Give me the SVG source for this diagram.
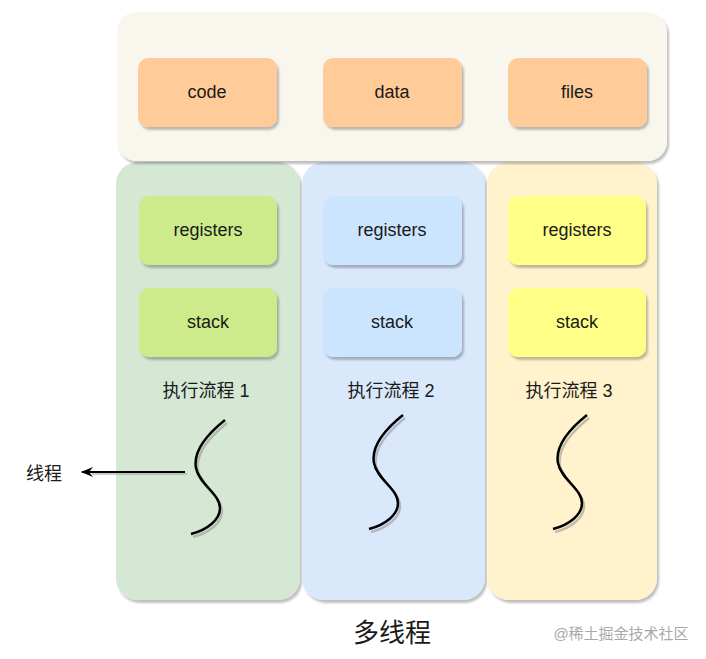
<svg xmlns="http://www.w3.org/2000/svg" width="706" height="659" viewBox="0 0 706 659">
<defs>
<filter id="sh" x="-10%" y="-10%" width="130%" height="130%">
<feDropShadow dx="2" dy="3" stdDeviation="1.2" flood-color="#000" flood-opacity="0.25"/>
</filter>
<marker id="arr" viewBox="0 0 12 10" refX="11" refY="5" markerWidth="12" markerHeight="10" markerUnits="userSpaceOnUse" orient="auto">
<path d="M0,0 L12,5 L0,10 L4,5 Z" fill="#000"/>
</marker>
<path id="scurve" d="M225,420 C205,436 193,452 196,468 C199,484 220,494 220,508 C220,520 207,530 191,534" fill="none"/>
</defs>
<style>
text{font-family:"Liberation Sans","Noto Sans CJK SC",sans-serif;fill:#1a1a1a;text-anchor:middle;dominant-baseline:central}
.box{font-size:18px}
.lbl{font-size:18px}
.col,.b{filter:url(#sh)}
.curve{stroke:#000;stroke-width:2.5;fill:none}
.curvesh{stroke:#999;stroke-width:2.5;fill:none;opacity:0.6}
</style>
<rect width="706" height="659" fill="#fff"/>
<g id="thread1">
<rect class="col" x="116" y="162" width="184" height="438" rx="22" fill="#d5e8d4"/>
<g id="reg1"><rect class="b" x="139" y="196" width="138" height="69" rx="10" fill="#cdeb8b"/><text class="box" x="208" y="230">registers</text></g>
<g id="stack1"><rect class="b" x="139" y="288" width="138" height="69" rx="10" fill="#cdeb8b"/><text class="box" x="208" y="322">stack</text></g>
<text class="lbl" x="206" y="391">执行流程 1</text>
<use href="#scurve" class="curvesh" transform="translate(2,3)"/>
<use href="#scurve" class="curve"/>
</g>
<g id="thread2">
<rect class="col" x="302" y="162" width="183" height="438" rx="22" fill="#dae8fc"/>
<g id="reg2"><rect class="b" x="323" y="196" width="139" height="69" rx="10" fill="#cce5ff"/><text class="box" x="392" y="230">registers</text></g>
<g id="stack2"><rect class="b" x="323" y="288" width="139" height="69" rx="10" fill="#cce5ff"/><text class="box" x="392" y="322">stack</text></g>
<text class="lbl" x="391" y="391">执行流程 2</text>
<use href="#scurve" class="curvesh" transform="translate(180,-2)"/>
<use href="#scurve" class="curve" transform="translate(178,-5)"/>
</g>
<g id="thread3">
<rect class="col" x="487" y="162" width="170" height="438" rx="22" fill="#fff2cc"/>
<g id="reg3"><rect class="b" x="508" y="196" width="138" height="69" rx="10" fill="#ffff88"/><text class="box" x="577" y="230">registers</text></g>
<g id="stack3"><rect class="b" x="508" y="288" width="138" height="69" rx="10" fill="#ffff88"/><text class="box" x="577" y="322">stack</text></g>
<text class="lbl" x="569" y="391">执行流程 3</text>
<use href="#scurve" class="curvesh" transform="translate(364,-2)"/>
<use href="#scurve" class="curve" transform="translate(362,-5)"/>
</g>
<g id="shared">
<rect class="col" x="117" y="12" width="550" height="149" rx="20" fill="#f9f7ed"/>
<g id="code"><rect class="b" x="138" y="58" width="139" height="69" rx="10" fill="#ffcc99"/><text class="box" x="207" y="92">code</text></g>
<g id="data"><rect class="b" x="323" y="58" width="139" height="69" rx="10" fill="#ffcc99"/><text class="box" x="392" y="92">data</text></g>
<g id="files"><rect class="b" x="508" y="58" width="139" height="69" rx="10" fill="#ffcc99"/><text class="box" x="577" y="92">files</text></g>
</g>
<g id="connectors">
<line x1="187" y1="474" x2="92" y2="474" stroke="#aaa" stroke-width="2" opacity="0.6"/>
<line x1="185" y1="472" x2="82" y2="472" stroke="#000" stroke-width="2" marker-end="url(#arr)"/>
</g>
<g id="labels">
<text class="lbl" x="44" y="474">线程</text>
<text x="392" y="633" style="font-size:26px">多线程</text>
<text x="621" y="633" style="font-size:15px;fill:#a8a8a8">@稀土掘金技术社区</text>
</g>
</svg>
